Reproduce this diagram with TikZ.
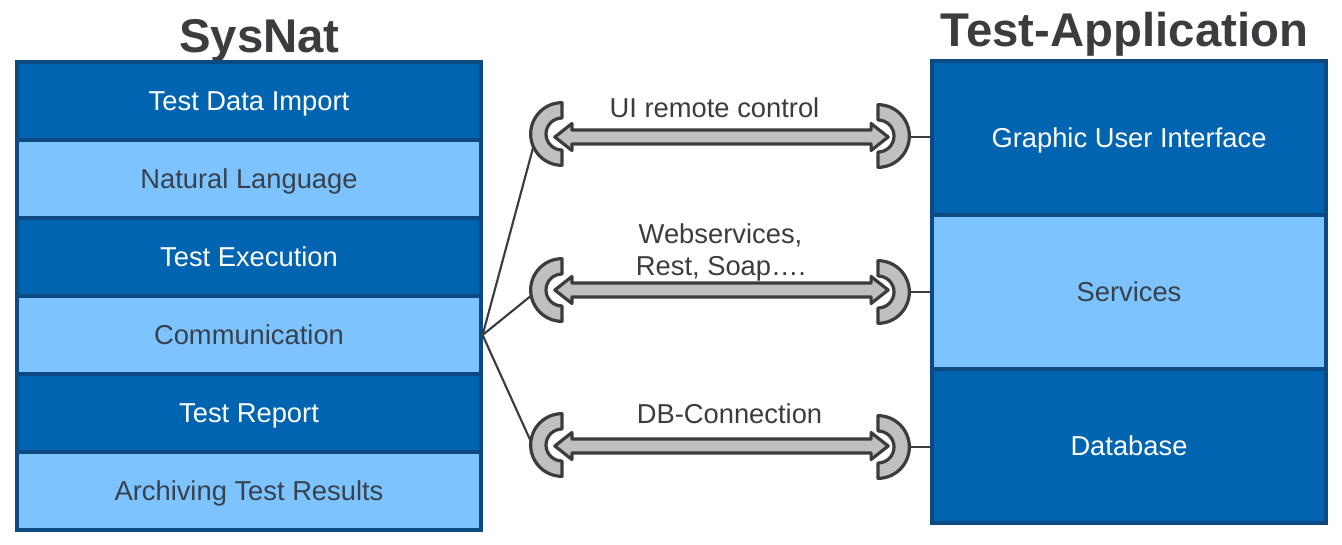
\documentclass[tikz,border=0pt]{standalone}
\usepackage{fontspec}
\setmainfont{Liberation Sans}
\definecolor{boxdark}{HTML}{0064B1}
\definecolor{boxlight}{HTML}{7DC4FF}
\definecolor{boxborder}{HTML}{0D4A82}
\definecolor{txtdark}{HTML}{37414D}
\definecolor{titlegray}{HTML}{3A3C3F}
\definecolor{sockfill}{HTML}{C0C0C0}
\definecolor{sockline}{HTML}{3A3C3E}
\begin{document}
\begin{tikzpicture}[x=0.75pt,y=-0.75pt,
  rowbase/.style={draw=boxborder,line width=2.4pt,inner sep=0pt,
    font=\fontsize{20.5}{24}\selectfont,text height=14.7pt,text depth=0pt},
  darkrow/.style={rowbase,fill=boxdark,text=white},
  lightrow/.style={rowbase,fill=boxlight,text=txtdark},
  leftrow/.style={minimum width=348pt,minimum height=58.5pt},
  rightrow/.style={minimum width=295.5pt,minimum height=115.5pt},
  titlestyle/.style={font=\fontsize{35.5}{40}\selectfont\bfseries,text=titlegray,inner sep=0pt,text height=25.4pt,text depth=0pt},
  lbl/.style={font=\fontsize{20.5}{24}\selectfont,text=titlegray,inner sep=0pt,anchor=base},
  wire/.style={draw=sockline,line width=1.6pt},
  sockstyle/.style={draw=sockline,fill=sockfill,line width=2.4pt,line join=round},
  sockL/.pic={\path[sockstyle] (0pt,23.5pt) arc[start angle=90,end angle=270,radius=23.5pt]
      -- (0pt,-12pt) arc[start angle=270,end angle=90,radius=12pt] -- cycle;},
  sockR/.pic={\path[sockstyle] (0pt,23.5pt) arc[start angle=90,end angle=-90,radius=23.5pt]
      -- (0pt,-12pt) arc[start angle=-90,end angle=90,radius=12pt] -- cycle;},
  dblarrow/.pic={\path[sockstyle] (-125pt,0pt) -- (-112.2pt,10.1pt) -- (-112.2pt,5.2pt)
      -- (112.2pt,5.2pt) -- (112.2pt,10.1pt) -- (125pt,0pt) -- (112.2pt,-10.1pt)
      -- (112.2pt,-5.2pt) -- (-112.2pt,-5.2pt) -- (-112.2pt,-10.1pt) -- cycle;}
]
\useasboundingbox (0,0) rectangle (1342,544);

% titles
\node[titlestyle] (t1) at (259.5,35.5) {SysNat};
\node[titlestyle] (t2) at (1124.5,30) {Test-Application};

% left stack
\node[darkrow,leftrow]  (tdi)  at (249,101) {Test Data Import};
\node[lightrow,leftrow] (nl)   at (249,179) {Natural Language};
\node[darkrow,leftrow]  (te)   at (249,257) {Test Execution};
\node[lightrow,leftrow] (comm) at (249,335) {Communication};
\node[darkrow,leftrow]  (tr)   at (249,413) {Test Report};
\node[lightrow,leftrow] (atr)  at (249,491) {Archiving Test Results};

% right stack
\node[darkrow,rightrow]  (gui) at (1129,138) {Graphic User Interface};
\node[lightrow,rightrow] (srv) at (1129,292) {Services};
\node[darkrow,rightrow]  (db)  at (1129,446) {Database};

% fan wires
\coordinate (fL1) at (533,148);
\coordinate (fL2) at (532,295);
\coordinate (fL3) at (532,444);
\draw[wire] (comm.east) -- (fL1);
\draw[wire] (comm.east) -- (fL2);
\draw[wire] (comm.east) -- (fL3);

% right wires
\coordinate (fR1) at (905,137);
\coordinate (fR2) at (905,292);
\coordinate (fR3) at (905,447);
\draw[wire] (fR1) -- (gui.west |- fR1);
\draw[wire] (fR2) -- (srv.west |- fR2);
\draw[wire] (fR3) -- (db.west |- fR3);

% sockets
\pic at (562,134) {sockL};
\pic at (562,290) {sockL};
\pic at (562,445) {sockL};
\pic at (878,136) {sockR};
\pic at (878,292) {sockR};
\pic at (878,447) {sockR};

% arrows
\pic at (721.5,137) {dblarrow};
\pic at (721.5,290) {dblarrow};
\pic at (721.5,446) {dblarrow};

% labels
\node[lbl] (l1) at (714.5,117) {UI remote control};
\node[lbl] (l2a) at (720.5,243) {Webservices,};
\node[lbl] (l2b) at (721,275) {Rest, Soap….};
\node[lbl] (l3) at (729.5,423) {DB-Connection};
\end{tikzpicture}
\end{document}
